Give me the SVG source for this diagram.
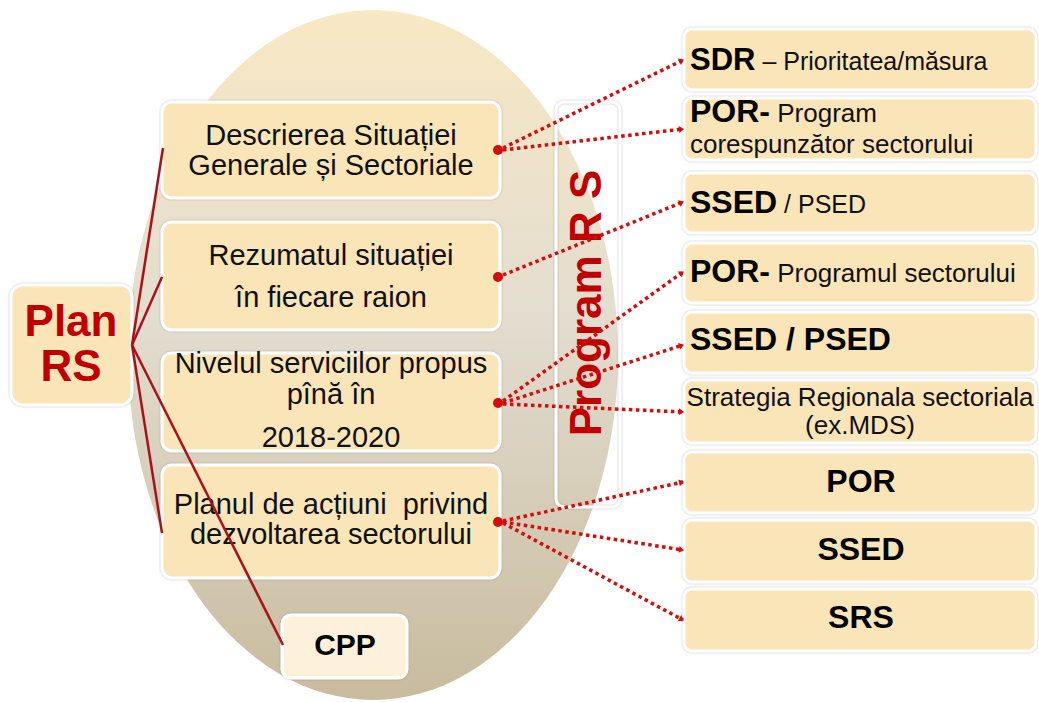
<svg xmlns="http://www.w3.org/2000/svg" width="1039" height="702" viewBox="0 0 1039 702">
<defs>
<linearGradient id="eg" x1="0" y1="0" x2="0" y2="1">
<stop offset="0" stop-color="#f8e8c4"/>
<stop offset="0.45" stop-color="#e3ddd0"/>
<stop offset="1" stop-color="#c8bb9e"/>
</linearGradient>
<filter id="sh" x="-5%" y="-5%" width="110%" height="110%">
<feDropShadow dx="0" dy="0" stdDeviation="1.1" flood-color="#8a8a8a" flood-opacity="0.6"/>
</filter>
<marker id="end" markerUnits="userSpaceOnUse" markerWidth="10" markerHeight="10" refX="5" refY="5" orient="auto">
<path d="M1,1.5 L6,5 L1,8.5 Z" fill="#d40c0c"/>
</marker>
</defs>
<style>
text{font-family:"Liberation Sans",Arial,sans-serif;}
.bx{fill:#fae5b9;stroke:#ffffff;stroke-width:3;filter:url(#sh);}
.cpp{fill:#fdf1dc;stroke:#ffffff;stroke-width:3;filter:url(#sh);}
.pbox{fill:none;stroke:#ffffff;stroke-width:3;filter:url(#sh);}
.lt{font-size:29px;fill:#111;text-anchor:middle;}
.rb{font-weight:bold;fill:#000;}
.rr{font-weight:normal;fill:#111;}
.red{font-weight:bold;fill:#c00000;}
.fan{stroke:#a8121a;stroke-width:2.5;fill:none;}
.dot{stroke:#d40c0c;stroke-width:3.5;stroke-dasharray:3.5 3.5;fill:none;marker-end:url(#end);}
.org{fill:#d40c0c;}
</style>
<rect width="1039" height="702" fill="#ffffff"/>
<ellipse id="oval" cx="373" cy="355" rx="245" ry="345" fill="url(#eg)"/>

<g id="plan-rs">
<rect class="bx" x="11" y="285" width="121" height="120" rx="12"/>
<text class="red" x="71" y="336" font-size="44" text-anchor="middle">Plan</text>
<text class="red" x="71" y="381" font-size="44" text-anchor="middle">RS</text>
</g>

<g id="descrierea">
<rect class="bx" x="162" y="102" width="338" height="96" rx="10"/>
<text class="lt" x="331" y="145">Descrierea Situației</text>
<text class="lt" x="331" y="175">Generale și Sectoriale</text>
</g>
<g id="rezumatul">
<rect class="bx" x="162" y="222" width="338" height="108" rx="10"/>
<text class="lt" x="331" y="265">Rezumatul situației</text>
<text class="lt" x="331" y="307">în fiecare raion</text>
</g>
<g id="nivelul">
<rect class="bx" x="162" y="353" width="338" height="98" rx="10"/>
<text class="lt" x="331" y="373">Nivelul serviciilor propus</text>
<text class="lt" x="331" y="404">pînă în</text>
<text class="lt" x="331" y="447">2018-2020</text>
</g>
<g id="planul">
<rect class="bx" x="162" y="465" width="338" height="113" rx="10"/>
<text class="lt" x="331" y="514" xml:space="preserve">Planul de acțiuni  privind</text>
<text class="lt" x="331" y="544">dezvoltarea sectorului</text>
</g>
<g id="cpp">
<rect class="cpp" x="282" y="615" width="125" height="63" rx="9"/>
<text class="rb" x="345" y="655" font-size="30" text-anchor="middle">CPP</text>
</g>
<g id="program-rs">
<rect class="pbox" x="556" y="102" width="64" height="405" rx="8"/>
<text class="red" font-size="44" text-anchor="middle" transform="translate(601,303) rotate(-90)">Program R S</text>
</g>

<g id="sdr">
<rect class="bx" x="684" y="29" width="352" height="61" rx="8"/>
<text x="690" y="70"><tspan class="rb" font-size="31">SDR</tspan><tspan class="rr" font-size="25"> – Prioritatea/măsura</tspan></text>
</g>
<g id="por-program">
<rect class="bx" x="684" y="98" width="352" height="62" rx="8"/>
<text x="690" y="122"><tspan class="rb" font-size="32">POR-</tspan><tspan class="rr" font-size="26"> Program</tspan></text>
<text class="rr" x="690" y="153" font-size="26">corespunzător sectorului</text>
</g>
<g id="ssed-psed-1">
<rect class="bx" x="684" y="173" width="352" height="60" rx="8"/>
<text x="690" y="213"><tspan class="rb" font-size="32">SSED</tspan><tspan class="rr" font-size="25"> / PSED</tspan></text>
</g>
<g id="por-programul">
<rect class="bx" x="684" y="243" width="352" height="60" rx="8"/>
<text x="690" y="282"><tspan class="rb" font-size="32">POR-</tspan><tspan class="rr" font-size="26"> Programul sectorului</tspan></text>
</g>
<g id="ssed-psed-2">
<rect class="bx" x="684" y="312" width="352" height="61" rx="8"/>
<text class="rb" x="690" y="350" font-size="32">SSED / PSED</text>
</g>
<g id="strategia">
<rect class="bx" x="684" y="380" width="352" height="63" rx="8"/>
<text class="rr" x="860" y="406" font-size="26" text-anchor="middle">Strategia Regionala sectoriala</text>
<text class="rr" x="860" y="434" font-size="26" text-anchor="middle">(ex.MDS)</text>
</g>
<g id="por">
<rect class="bx" x="684" y="452" width="352" height="61" rx="8"/>
<text class="rb" x="861" y="492" font-size="32" text-anchor="middle">POR</text>
</g>
<g id="ssed">
<rect class="bx" x="684" y="520" width="352" height="62" rx="8"/>
<text class="rb" x="861" y="560" font-size="32" text-anchor="middle">SSED</text>
</g>
<g id="srs">
<rect class="bx" x="684" y="589" width="352" height="62" rx="8"/>
<text class="rb" x="861" y="628" font-size="32" text-anchor="middle">SRS</text>
</g>

<g id="connectors">
<line class="fan" x1="132" y1="345" x2="163" y2="148"/>
<line class="fan" x1="132" y1="345" x2="162" y2="277"/>
<line class="fan" x1="132" y1="345" x2="162" y2="533"/>
<line class="fan" x1="132" y1="345" x2="283" y2="645"/>
<line class="dot" x1="503" y1="148" x2="683" y2="60"/>
<line class="dot" x1="503" y1="150" x2="683" y2="129"/>
<line class="dot" x1="503" y1="275" x2="683" y2="202"/>
<line class="dot" x1="503" y1="401" x2="683" y2="272"/>
<line class="dot" x1="503" y1="403" x2="683" y2="345"/>
<line class="dot" x1="503" y1="404" x2="683" y2="412"/>
<line class="dot" x1="503" y1="521" x2="683" y2="482"/>
<line class="dot" x1="503" y1="522" x2="683" y2="550"/>
<line class="dot" x1="503" y1="523" x2="683" y2="620"/>
<circle class="org" cx="498" cy="150" r="5"/>
<circle class="org" cx="498" cy="277" r="5"/>
<circle class="org" cx="498" cy="403" r="5"/>
<circle class="org" cx="498" cy="522" r="5"/>
</g>
</svg>
